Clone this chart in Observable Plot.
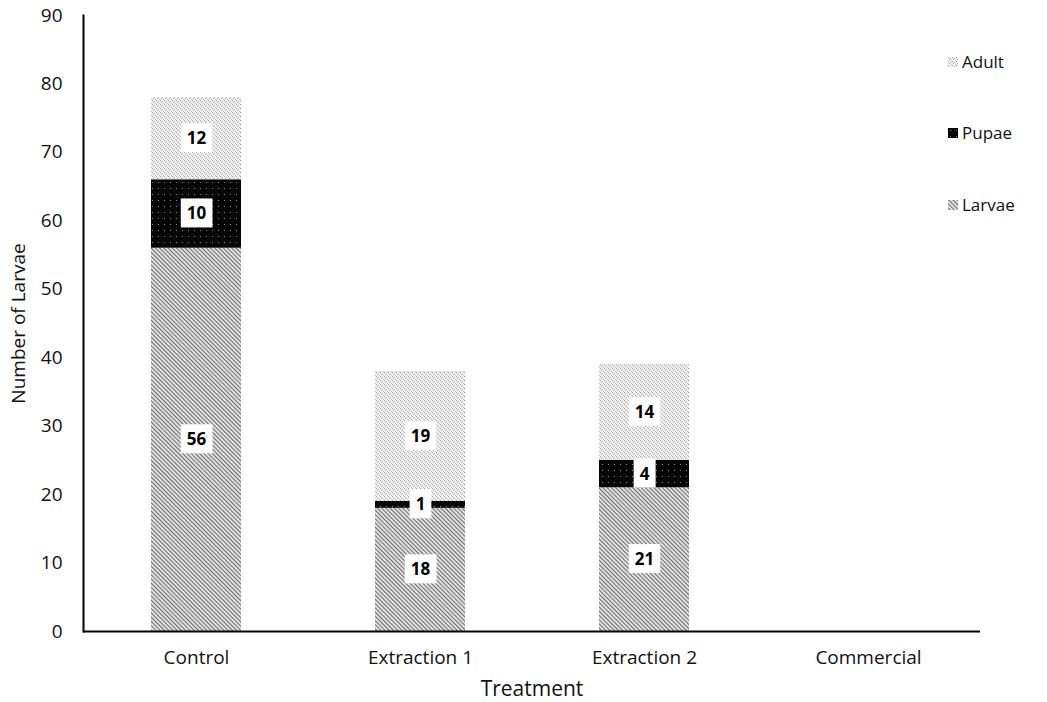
<!DOCTYPE html>
<html>
<head>
<meta charset="utf-8">
<script src="https://cdn.jsdelivr.net/npm/d3@7"></script>
<script src="https://cdn.jsdelivr.net/npm/@observablehq/plot@0.6"></script>
<style>
  html, body { margin: 0; padding: 0; background: #fff; }
  #wrap { position: relative; width: 1047px; height: 702px; font-family: "Open Sans", sans-serif; }
  #legend { position: absolute; left: 948px; top: 0; }
  .item { position: absolute; left: 0; display: flex; align-items: center; white-space: nowrap; font-size: 17px; color: #111; }
  .item svg { margin-right: 4px; }
</style>
</head>
<body>
<!-- fill patterns for the three life stages -->
<svg width="0" height="0" style="position:absolute">
  <defs>
    <pattern id="pat-adult" width="4" height="4" patternUnits="userSpaceOnUse">
      <rect width="4" height="4" fill="#f0f0f0"/>
      <rect x="0" y="0" width="1" height="1" fill="#a0a0a0"/>
      <rect x="2" y="1" width="1" height="1" fill="#bcbcbc"/>
      <rect x="1" y="2" width="1" height="1" fill="#acacac"/>
      <rect x="3" y="3" width="1" height="1" fill="#c0c0c0"/>
    </pattern>
    <pattern id="pat-pupae" width="6" height="6" patternUnits="userSpaceOnUse">
      <rect width="6" height="6" fill="#050505"/>
      <rect x="2" y="2" width="1" height="1" fill="#8a8a8a"/>
    </pattern>
    <pattern id="pat-larvae" width="3" height="3" patternUnits="userSpaceOnUse" patternTransform="rotate(-45)">
      <rect width="3" height="3" fill="#dedede"/>
      <rect x="0" y="0" width="1" height="3" fill="#707070"/>
    </pattern>
  </defs>
</svg>
<div id="wrap">
  <div id="chart"></div>
  <div id="legend"></div>
</div>
<script>
// Counts per treatment, stacked from bottom to top: larvae, pupae, adult
const treatments = ["Control", "Extraction 1", "Extraction 2", "Commercial"];
const larvae = [56, 18, 21, 0];
const pupae = [10, 1, 4, 0];
const adult = [12, 19, 14, 0];
const stages = ["Larvae", "Pupae", "Adult"];
const yTicks = [0, 10, 20, 30, 40, 50, 60, 70, 80, 90];

const fills = {
  Larvae: "url(#pat-larvae)",
  Pupae: "url(#pat-pupae)",
  Adult: "url(#pat-adult)"
};

const series = {Larvae: larvae, Pupae: pupae, Adult: adult};
const rows = [];
for (const s of stages) {
  treatments.forEach((t, i) => rows.push({treatment: t, stage: s, count: series[s][i]}));
}

const font = "Open Sans, sans-serif";

const chart = Plot.plot({
  width: 1047,
  height: 702,
  marginLeft: 83,
  marginRight: 67,
  marginTop: 15,
  marginBottom: 71,
  style: {fontFamily: font, fontSize: "17px", color: "#111", background: "#fff"},
  x: {domain: treatments, paddingInner: 0.6, paddingOuter: 0.3},
  y: {domain: [0, 90]},
  marks: [
    Plot.barY(rows, Plot.stackY({
      x: "treatment", y: "count", z: "stage", order: stages,
      fill: d => fills[d.stage]
    })),
    Plot.text(rows.filter(d => d.count > 0), Plot.stackY({
      x: "treatment", y: "count", z: "stage", order: stages, text: "count",
      fontWeight: "bold", fontSize: 17, fill: "#000", className: "seg-label"
    })),
    Plot.axisY({
      ticks: yTicks, tickSize: 0, tickPadding: 21,
      label: "Number of Larvae", labelAnchor: "center", labelArrow: "none", labelOffset: 72
    }),
    Plot.axisX({
      tickSize: 0, tickPadding: 19,
      label: "Treatment", labelAnchor: "center", labelArrow: "none", labelOffset: 64
    }),
    Plot.frame({anchor: "left", stroke: "#000", strokeWidth: 2}),
    Plot.ruleY([0], {stroke: "#000", strokeWidth: 2})
  ]
});

document.getElementById("chart").append(chart);

// Tick labels and axis titles
d3.select(chart).selectAll("[aria-label='y-axis tick label'] text, [aria-label='x-axis tick label'] text")
  .style("font-size", "19px");
d3.select(chart).selectAll("[aria-label='y-axis label'] text").style("font-size", "19px");
d3.select(chart).selectAll("[aria-label='x-axis label'] text").style("font-size", "21px");

// White boxes behind the segment values
d3.select(chart).selectAll(".seg-label text").each(function() {
  const b = this.getBBox();
  const padX = 6, h = 29;
  d3.select(this.parentNode).insert("rect", () => this)
    .attr("x", b.x - padX)
    .attr("y", b.y + b.height / 2 - h / 2)
    .attr("width", b.width + 2 * padX)
    .attr("height", h)
    .attr("fill", "#fff")
    .attr("transform", this.getAttribute("transform"));
});

// Legend, top to bottom: adult, pupae, larvae
const legendTop = {Adult: 62, Pupae: 133, Larvae: 205};
const legend = d3.select("#legend");
for (const s of ["Adult", "Pupae", "Larvae"]) {
  const item = legend.append("div").attr("class", "item")
    .style("top", (legendTop[s] - 12) + "px");
  const sw = item.append("svg").attr("width", 10).attr("height", 10);
  sw.append("rect").attr("width", 10).attr("height", 10).attr("fill", fills[s]);
  item.append("span").text(s);
}
</script>
</body>
</html>
